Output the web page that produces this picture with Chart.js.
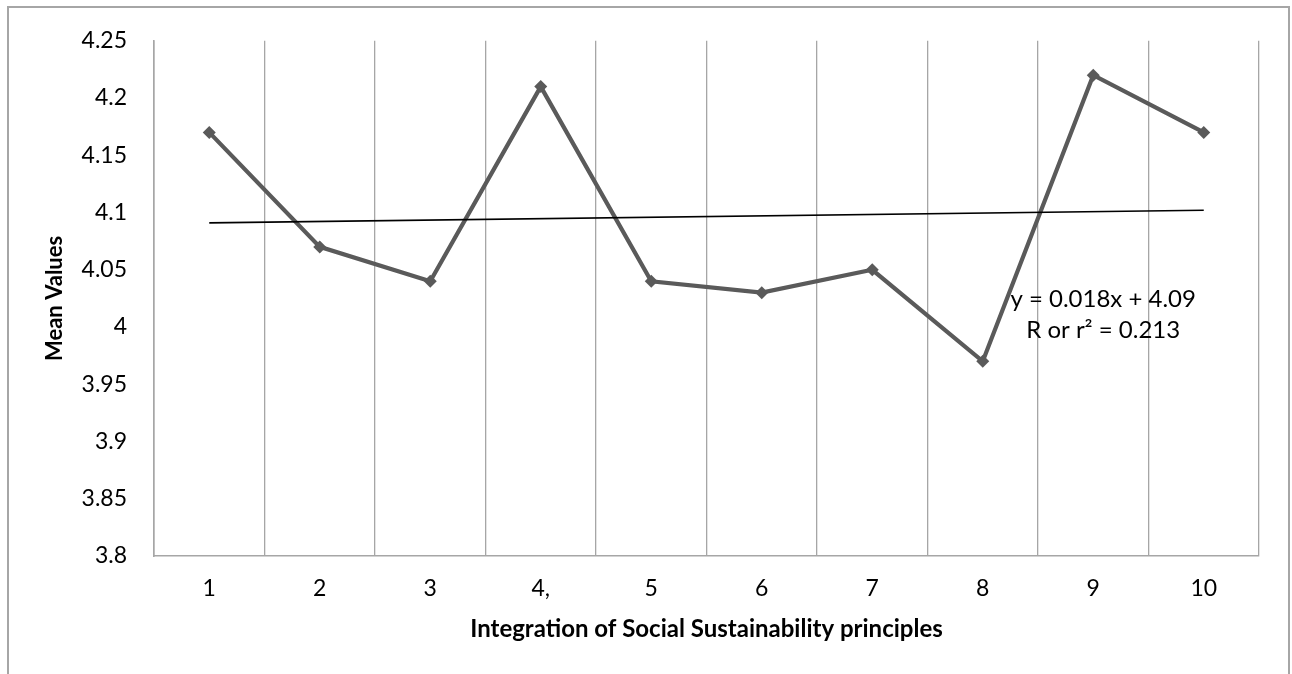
<!DOCTYPE html>
<html>
<head>
<meta charset="utf-8">
<script src="https://cdn.jsdelivr.net/npm/chart.js@4.4.1/dist/chart.umd.min.js"></script>
<style>
  html, body { margin: 0; padding: 0; background: #ffffff; }
  #wrap { width: 1292px; height: 674px; position: relative; }
</style>
</head>
<body>
<div id="wrap"><canvas id="c" width="1292" height="674"></canvas></div>
<script>
// Principle numbers along the x axis
const categories = ['1', '2', '3', '4,', '5', '6', '7', '8', '9', '10'];
// Mean score for each principle
const meanValues = [4.17, 4.07, 4.04, 4.21, 4.04, 4.03, 4.05, 3.97, 4.22, 4.17];
// Linear trend line, value at the first and at the last principle
const trendValues = [4.091, 4.102];
// Y axis ticks
const yTickValues = [3.8, 3.85, 3.9, 3.95, 4, 4.05, 4.1, 4.15, 4.2, 4.25];
// Trend equation shown beside the line
const equationLines = ['y = 0.018x + 4.09', 'R or r\u00b2 = 0.213'];

const FONT = 'Lato, "Open Sans", "DejaVu Sans", sans-serif';
const GRID = '#a6a6a6';

// Thin grey frame round the whole chart
const framePlugin = {
  id: 'frame',
  beforeDraw(chart) {
    const ctx = chart.ctx;
    ctx.save();
    ctx.strokeStyle = '#a6a6a6';
    ctx.lineWidth = 2;
    ctx.beginPath();
    ctx.moveTo(8, 674);
    ctx.lineTo(8, 7);
    ctx.lineTo(1289, 7);
    ctx.lineTo(1289, 674);
    ctx.stroke();
    ctx.restore();
  }
};

// Equation text, two centred lines inside the plot
const equationPlugin = {
  id: 'equation',
  afterDatasetsDraw(chart) {
    const { ctx, chartArea } = chart;
    const w = chartArea.right - chartArea.left;
    const h = chartArea.bottom - chartArea.top;
    const cx = chartArea.left + 0.859 * w;
    ctx.save();
    ctx.fillStyle = '#000';
    ctx.font = '24px ' + FONT;
    ctx.textAlign = 'center';
    ctx.textBaseline = 'middle';
    ctx.fillText(equationLines[0], cx, chartArea.top + 0.501 * h);
    ctx.fillText(equationLines[1], cx, chartArea.top + 0.562 * h);
    ctx.restore();
  }
};

new Chart(document.getElementById('c'), {
  type: 'line',
  data: {
    labels: categories,
    datasets: [
      {
        label: 'Linear trend',
        data: [
          { x: categories[0], y: trendValues[0] },
          { x: categories[categories.length - 1], y: trendValues[1] }
        ],
        borderColor: '#000000',
        borderWidth: 1.6,
        pointRadius: 0,
        tension: 0
      },
      {
        label: 'Mean Values',
        data: meanValues,
        borderColor: '#5a5a5a',
        borderWidth: 4.2,
        pointStyle: 'rectRot',
        pointRadius: 6.5,
        pointBackgroundColor: '#5a5a5a',
        pointBorderColor: '#5a5a5a',
        pointBorderWidth: 0,
        tension: 0
      }
    ]
  },
  options: {
    responsive: false,
    animation: false,
    devicePixelRatio: 1,
    layout: { padding: { left: 0, top: 37, right: 33, bottom: 0 } },
    plugins: {
      legend: { display: false },
      tooltip: { enabled: false }
    },
    scales: {
      x: {
        type: 'category',
        offset: true,
        grid: { display: true, offset: true, color: GRID, lineWidth: 1.3, drawTicks: false },
        border: { display: true, color: GRID, width: 1.6 },
        ticks: { color: '#000', font: { family: FONT, size: 23 }, padding: 19, maxRotation: 0 },
        title: {
          display: true,
          text: 'Integration of Social Sustainability principles',
          color: '#000',
          font: { family: FONT, size: 24, weight: 'bold' },
          padding: { top: 0, bottom: 30 }
        },
        afterFit(scale) { scale.height = 674 - 556; }
      },
      y: {
        min: 3.8,
        max: 4.25,
        grid: { display: false, drawTicks: false },
        border: { display: true, color: GRID, width: 1.6 },
        afterBuildTicks(scale) { scale.ticks = yTickValues.map(v => ({ value: v })); },
        ticks: {
          color: '#000',
          font: { family: FONT, size: 23 },
          padding: 27,
          callback: v => String(+Number(v).toFixed(2))
        },
        title: {
          display: true,
          text: 'Mean Values',
          color: '#000',
          font: { family: FONT, size: 22, weight: 'bold' },
          padding: { top: 42, bottom: 0 }
        },
        afterFit(scale) { scale.width = 154; }
      }
    }
  },
  plugins: [framePlugin, equationPlugin]
});
</script>
</body>
</html>
